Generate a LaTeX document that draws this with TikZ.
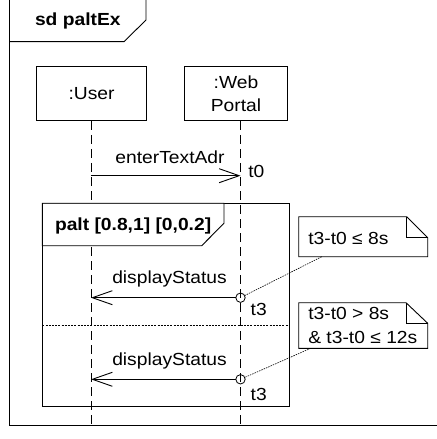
\documentclass[tikz,border=0pt]{standalone}
\usepackage{fontspec}
\setmainfont{Liberation Sans}[FakeStretch=1.1]
\usetikzlibrary{arrows.meta}
\begin{document}
\begin{tikzpicture}[x=1bp,y=-1bp,
  every node/.style={font=\fontsize{17.5bp}{23.3bp}\selectfont, inner sep=0pt, outer sep=0pt},
  ln/.style={line width=0.9bp, draw=black},
  heavy/.style={line width=1.4bp, draw=black},
  box/.style={ln, rectangle, align=center},
  lifeline/.style={line width=0.8bp, dash pattern=on 9bp off 5bp},
  msg/.style={line width=0.9bp, -{Straight Barb[length=20bp,width=14bp,line width=0.9bp]}},
  tp/.style={circle, draw, line width=0.8bp, minimum size=9.4bp},
  link/.style={line width=0.6bp, dash pattern=on 1.5bp off 1bp},
  lbl/.style={anchor=base west},
  bold/.style={font=\fontsize{17.5bp}{23.3bp}\selectfont\bfseries}
]
\fill[white] (0,0) rectangle (437,439);
\useasboundingbox (0,0) rectangle (437,439);
\begin{scope}
\clip (0,0) rectangle (437,439);
% outer sd frame
\draw[ln] (9.5,-2) -- (9.5,425.5);
\draw[heavy] (9.5,425.5) -- (440,425.5);
\draw[ln] (9.5,41.7) -- (124,41.7) -- (146,20) -- (146,-2);
\end{scope}
\node[bold, lbl] (sdlabel) at (35,26) {sd paltEx};

% lifeline heads
\node[box, minimum width=110bp, minimum height=54.3bp] (user) at (91.5,93.8) {:User};
\node[box, minimum width=103.4bp, minimum height=54.3bp] (web) at (236,93.8) {:Web\\Portal};

\coordinate (utop) at (91,121);
\coordinate (wtop) at (240.5,121);
\coordinate (ubot) at (91,425.5);
\coordinate (wbot) at (240.5,425.5);
\draw[lifeline] (utop) -- (ubot);
\draw[lifeline] (wtop) -- (wbot);

% enterTextAdr
\coordinate (m1s) at (91,175.7);
\coordinate (m1e) at (240.5,175.7);
\draw[msg] (m1s) -- (m1e);
\node[anchor=base] (m1lbl) at (170,163.3) {enterTextAdr};
\node[lbl] (t0) at (248.3,177.7) {t0};

% palt fragment
\draw[ln] (42.3,406.5) -- (42.3,203.3) -- (289.3,203.3) -- (289.3,406.5);
\draw[heavy] (41.9,406.5) -- (289.7,406.5);
\filldraw[ln, fill=white] (42.3,203.3) -- (224,203.3) -- (224,223.3) -- (201.7,245.7) -- (42.3,245.7) -- cycle;
\node[bold, lbl] (paltlbl) at (55,230) {palt [0.8,1] [0,0.2]};
\draw[line width=0.7bp, dash pattern=on 2bp off 1.2bp] (42.3,325) -- (289.3,325);

% first alternative
\node[tp] (c1) at (240.5,297.7) {};
\coordinate (u1) at (91,297.7);
\draw[msg] (c1) -- (u1);
\node[anchor=base] (d1lbl) at (169.5,283.3) {displayStatus};
\node[lbl] (t31) at (250.7,315) {t3};

% second alternative
\node[tp] (c2) at (240.5,379.3) {};
\coordinate (u2) at (91,379.3);
\draw[msg] (c2) -- (u2);
\node[anchor=base] (d2lbl) at (169.5,365) {displayStatus};
\node[lbl] (t32) at (250.7,400) {t3};

% note 1
\draw[ln, fill=white] (298.7,216.7) -- (406.7,216.7) -- (427.7,237.7) -- (427.7,256.7) -- (298.7,256.7) -- cycle;
\draw[ln] (406.7,216.7) -- (406.7,237.7) -- (427.7,237.7);
\node[lbl] (n1txt) at (308.3,244.3) {t3-t0 ≤ 8s};
\coordinate (n1a) at (321.7,256.7);
\draw[link] (n1a) -- (c1);

% note 2
\draw[ln, fill=white] (298.7,302.7) -- (406,302.7) -- (427.7,323.3) -- (427.7,348.3) -- (298.7,348.3) -- cycle;
\draw[ln] (406,302.7) -- (406,323.3) -- (427.7,323.3);
\node[lbl] (n2txta) at (308.3,319.3) {t3-t0 > 8s};
\node[lbl] (n2txtb) at (308.3,343.3) {\& t3-t0 ≤ 12s};
\coordinate (n2a) at (310.7,348.3);
\draw[link] (n2a) -- (c2);
\end{tikzpicture}
\end{document}
